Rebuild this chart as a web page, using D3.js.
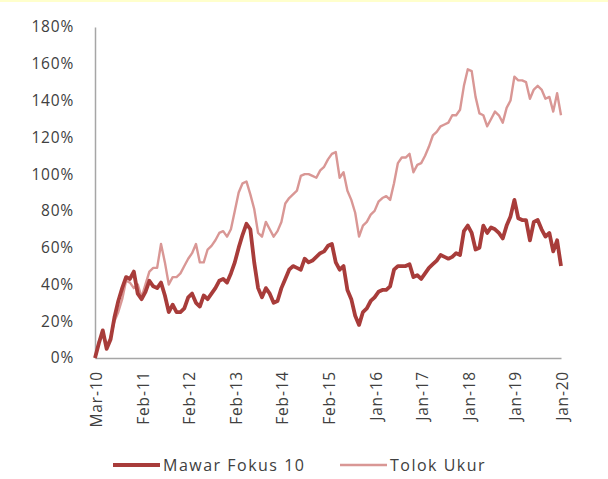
<!DOCTYPE html>
<html>
<head>
<meta charset="utf-8">
<script src="https://cdn.jsdelivr.net/npm/d3@7"></script>
<style>
  body { margin:0; background:#fff; }
  #canvas { width:608px; height:479px; position:relative; border-top:2px solid #ffffcc; box-sizing:border-box; }
  text { font-family: "Open Sans", "Liberation Sans", sans-serif; fill:#404040; }
</style>
</head>
<body>
<div id="canvas" class="canvas"></div>
<script>
// tick labels along the category axis (every 12th point)
var xLabels = ['Mar-10','Feb-11','Feb-12','Feb-13','Feb-14','Feb-15','Jan-16','Jan-17','Jan-18','Jan-19','Jan-20'];
var yTicks = [0,20,40,60,80,100,120,140,160,180];
var seriesNames = ['Mawar Fokus 10','Tolok Ukur'];

// cumulative return, %
var mawar = [0,8,15,5,10,22,31,38,44,43,47,35,32,36,42,39,38,41,34,25,
  29,25,25,27,33,35,30,28,34,32,35,38,42,43,41,46,52,60,67,73,
  70,52,38,33,38,35,30,31,38,43,48,50,49,48,54,52,53,55,57,58,
  61,62,52,48,50,37,32,23,18,25,27,31,33,36,37,37,39,48,50,50,
  50,51,44,45,43,46,49,51,53,56,55,54,55,57,56,69,72,68,59,60,
  72,68,71,70,68,65,72,77,86,76,75,75,64,74,75,70,66,68,58,64,50];

var tolok = [0,9,14,7,11,20,25,32,42,41,38,40,33,40,47,49,49,62,52,40,
  44,44,46,50,54,57,62,52,52,59,61,64,68,69,66,70,80,90,95,96,
  89,81,68,66,74,70,66,69,74,84,87,89,91,99,100,100,99,98,102,104,
  108,111,112,98,101,91,86,79,66,72,74,78,80,85,87,88,86,95,106,109,
  109,111,101,105,106,110,115,121,123,126,127,128,132,132,135,148,157,156,142,133,
  132,126,130,134,132,128,136,140,153,151,151,150,141,146,148,146,141,142,134,144,132];

var m = {t:27,r:47,b:119,l:95};
var outerWidth = 608, outerHeight = 477;
var w = outerWidth - m.l - m.r,
    h = outerHeight - m.t - m.b;

var svg = d3.select('.canvas')
    .append('svg')
    .attr('width',outerWidth)
    .attr('height',outerHeight);

var plot = svg.append('g')
    .attr('transform','translate(' + m.l + ',' + (m.t - 2) + ')');

var scaleX = d3.scaleLinear()
    .domain([0, mawar.length - 1])
    .range([0, w]);
var scaleY = d3.scaleLinear()
    .domain([0,180])
    .range([h,0]);

// y axis
var axisY = d3.axisLeft(scaleY)
    .tickValues(yTicks)
    .tickSize(0)
    .tickPadding(21)
    .tickFormat(function(d){ return d + '%'; });
var gy = plot.append('g').call(axisY);
gy.select('.domain').attr('stroke','#a6a6a6').attr('stroke-width',1.5);
gy.selectAll('text')
    .style('font-size','15.5px')
    .style('letter-spacing','0.8px')
    .attr('fill','#404040');

// x axis
var axisX = d3.axisBottom(scaleX)
    .tickValues(d3.range(0, mawar.length, 12))
    .tickSize(0)
    .tickPadding(0)
    .tickFormat(function(d,i){ return xLabels[i]; });
var gx = plot.append('g')
    .attr('transform','translate(0,' + h + ')')
    .call(axisX);
gx.select('.domain').attr('stroke','#a6a6a6').attr('stroke-width',1.5);
gx.selectAll('text')
    .style('font-size','15.5px')
    .style('letter-spacing','0.8px')
    .attr('fill','#404040')
    .attr('text-anchor','end')
    .attr('dy','0.35em')
    .attr('transform','translate(1,13) rotate(-90)')
    .attr('y',0)
    .attr('x',0);

var line = d3.line()
    .x(function(d,i){ return scaleX(i); })
    .y(function(d){ return scaleY(d); });

plot.append('path')
    .datum(tolok)
    .attr('fill','none')
    .attr('stroke','#d99795')
    .attr('stroke-width',2.4)
    .attr('stroke-linejoin','round')
    .attr('d',line);

plot.append('path')
    .datum(mawar)
    .attr('fill','none')
    .attr('stroke','#a83c3a')
    .attr('stroke-width',3.8)
    .attr('stroke-linejoin','round')
    .attr('d',line);

// legend
var legend = svg.append('g').attr('transform','translate(0,463)');
var legendItems = [
  {name: seriesNames[0], color:'#a83c3a', width:3.8, x:113},
  {name: seriesNames[1], color:'#d99795', width:2.4, x:340}
];
legendItems.forEach(function(d){
  legend.append('line')
    .attr('x1', d.x).attr('x2', d.x + 47)
    .attr('y1', 0).attr('y2', 0)
    .attr('stroke', d.color)
    .attr('stroke-width', d.width);
  legend.append('text')
    .attr('x', d.x + 50)
    .attr('y', 0)
    .attr('dy','0.35em')
    .style('font-size','16px')
    .style('letter-spacing','1.5px')
    .text(d.name);
});
</script>
</body>
</html>
